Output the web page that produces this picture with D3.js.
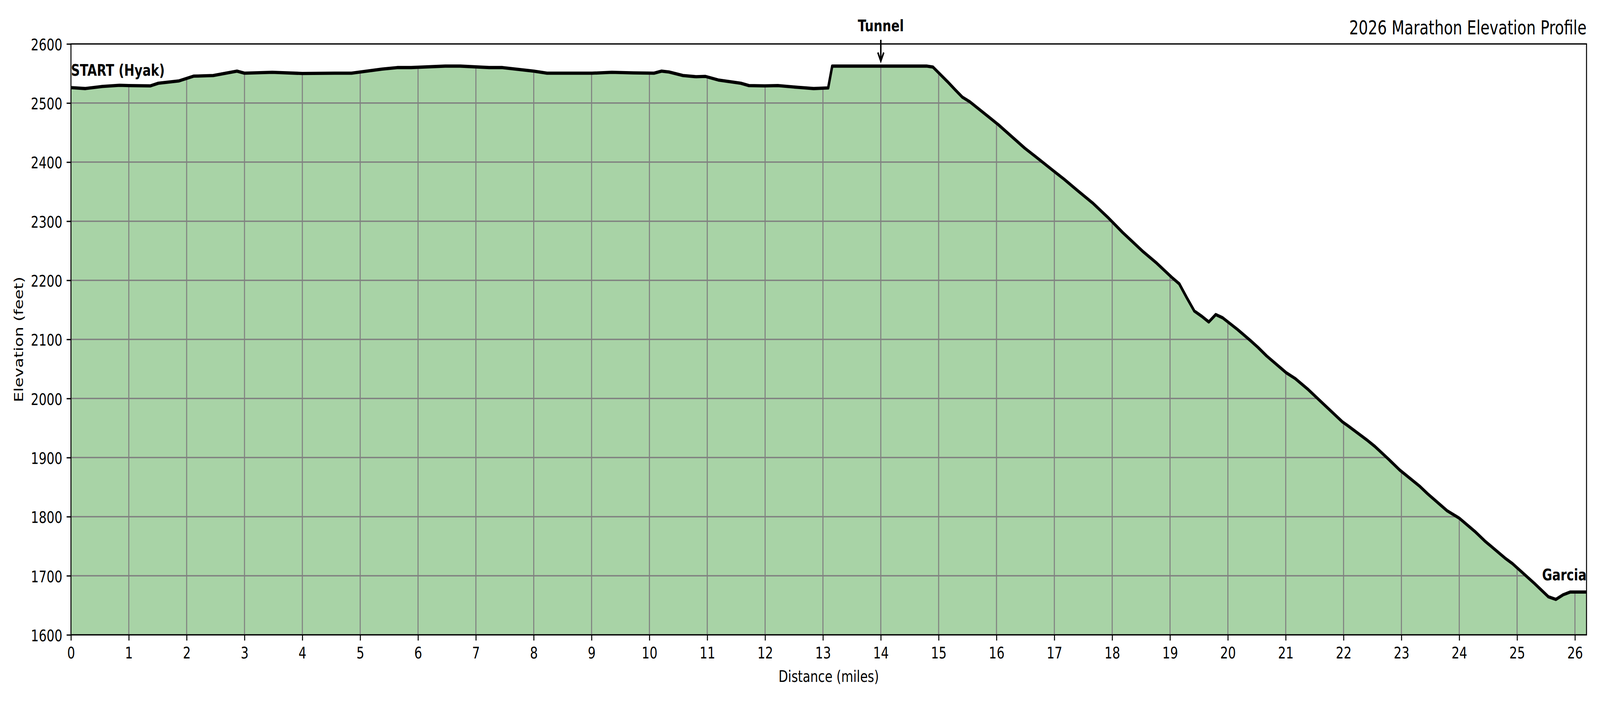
<!DOCTYPE html>
<html lang="en">

<head>
  <meta charset="UTF-8">
  <meta name="viewport" content="width=device-width, initial-scale=1.0">
  <title>2026 Marathon Elevation Profile</title>
  <style>
    html, body { margin: 0; padding: 0; width: 100%; height: 100%; overflow: hidden; background: #fff; }
    #d3 { width: 100%; height: 100%; }
    svg { display: block; }
    svg text { font-family: "DejaVu Sans", sans-serif; fill: #000; }
  </style>
</head>
<script src='https://d3js.org/d3.v7.min.js'></script>

<body>
  <div id="d3"></div>
</body>

<script>
  // distance along the course (miles) and elevation (feet)
  const miles = [
    0, 0.25, 0.54, 0.84, 1.0, 1.37, 1.51, 1.87, 2.12, 2.46, 2.87, 3.0, 3.48, 4.0, 4.56,
    4.85, 5.0, 5.38, 5.64, 5.88, 6.47, 6.73, 7.23, 7.46, 7.73, 8.0, 8.23, 8.67, 9.01,
    9.35, 9.72, 10.08, 10.21, 10.34, 10.58, 10.81, 10.97, 11.19, 11.58, 11.72, 11.99,
    12.22, 12.57, 12.84, 13.09, 13.16, 14.79, 14.9, 15.15, 15.29, 15.41, 15.54, 16.03,
    16.49, 16.68, 17.0, 17.17, 17.4, 17.66, 17.92, 18.18, 18.54, 18.77, 19.03, 19.16,
    19.29, 19.42, 19.55, 19.67, 19.79, 19.91, 20.17, 20.39, 20.52, 20.67, 21.01, 21.16,
    21.39, 21.67, 21.98, 22.08, 22.42, 22.54, 22.77, 22.97, 23.31, 23.45, 23.79, 24.0,
    24.27, 24.44, 24.79, 24.92, 25.3, 25.54, 25.67, 25.8, 25.92, 26.2
  ]
  const elevation = [
    2526, 2524.5, 2528, 2530, 2529.5, 2529, 2533.5, 2537.5, 2545.5, 2546.5, 2554, 2550.5, 2552, 2550, 2550.5,
    2550.5, 2552.5, 2557.5, 2560, 2560, 2562.5, 2562.5, 2560, 2560, 2557, 2554, 2550.5, 2550.5, 2550.5,
    2552, 2551, 2550.5, 2554, 2552.5, 2546.5, 2544.5, 2545, 2539, 2533.5, 2529.5, 2529,
    2529.5, 2526.5, 2524.5, 2525.5, 2562.5, 2562.5, 2561, 2536.5, 2522, 2510, 2502, 2463.5,
    2423.5, 2409, 2384, 2371, 2352, 2331, 2307, 2281, 2248, 2229, 2205, 2194,
    2170.5, 2148, 2139, 2129.5, 2142, 2136.5, 2116.5, 2098, 2086.5, 2072, 2043.5, 2034,
    2015, 1989, 1960.5, 1953.5, 1928.5, 1919, 1898, 1879, 1852, 1839, 1810, 1797.5,
    1775, 1759, 1730, 1720.5, 1687, 1664.5, 1660, 1668, 1672.5, 1672.5
  ]

  const xTicks = d3.range(0, 27)
  const yTicks = [1600, 1700, 1800, 1900, 2000, 2100, 2200, 2300, 2400, 2500, 2600]

  // course landmarks: [label, mile, elevation]
  const startLabel = ['START (Hyak)', 0, 2546]
  const tunnelLabel = ['Tunnel', 14, 2621.5, 2607, 2571]
  const finishLabel = ['Garcia', 26.2, 1692]

  const w = 5400,
    h = 1800
  const margin = { top: 112.5, right: 45.5, bottom: 174.5, left: 239.5 }
  const fs = 41.67 // 10pt @ 300dpi

  // drawn in a 5400x1800 user space and stretched over the whole window
  // (the window we get is not always 3:1)
  const svg = d3.select("#d3").append("svg")
    .attr("width", "100%")
    .attr("height", "100%")
    .attr("viewBox", `0 0 ${w} ${h}`)
    .attr("preserveAspectRatio", "none")

  const x = d3.scaleLinear()
    .domain([0, 26.2])
    .range([margin.left, w - margin.right])

  const y = d3.scaleLinear()
    .domain([1600, 2600])
    .range([h - margin.bottom, margin.top])

  const data = miles.map((m, i) => ({ m: m, e: elevation[i] }))

  const area = d3.area()
    .x((d) => x(d.m))
    .y0(y(1600))
    .y1((d) => y(d.e))

  const line = d3.line()
    .x((d) => x(d.m))
    .y((d) => y(d.e))

  // DRAWING FILL
  svg.append('path')
    .datum(data)
    .attr('d', area)
    .attr('fill', '#a8d3a6')

  // grid only shows inside the filled profile
  svg.append('clipPath')
    .attr('id', 'under')
    .append('path')
    .datum(data)
    .attr('d', area)

  const grid = svg.append('g')
    .attr('clip-path', 'url(#under)')
    .attr('stroke', '#808080')
    .attr('stroke-width', 3.5)

  grid.selectAll('.vgrid')
    .data(xTicks)
    .enter()
    .append('line')
    .attr('x1', (d) => x(d))
    .attr('x2', (d) => x(d))
    .attr('y1', y(1600))
    .attr('y2', y(2600))

  grid.selectAll('.hgrid')
    .data(yTicks)
    .enter()
    .append('line')
    .attr('x1', x(0))
    .attr('x2', x(26.2))
    .attr('y1', (d) => y(d))
    .attr('y2', (d) => y(d))

  // DRAWING PROFILE LINE
  svg.append('path')
    .datum(data)
    .attr('d', line)
    .attr('fill', 'none')
    .attr('stroke', '#000')
    .attr('stroke-width', 8.3)
    .attr('stroke-linejoin', 'round')

  // AXES
  const xAxis = svg.append('g')
    .attr('transform', `translate(0,${y(1600)})`)
    .call(d3.axisBottom(x).tickValues(xTicks).tickFormat(d3.format('d')).tickSize(14.6).tickPadding(16.6))

  const yAxis = svg.append('g')
    .attr('transform', `translate(${x(0)},0)`)
    .call(d3.axisLeft(y).tickValues(yTicks).tickFormat(d3.format('d')).tickSize(14.6).tickPadding(14.6))

  yAxis.selectAll('text').attr('dy', '0.38em')

  ;[xAxis, yAxis].forEach((a) => {
    a.select('.domain').remove()
    a.selectAll('line').attr('stroke', '#000').attr('stroke-width', 3.33)
    a.selectAll('text')
      .style('font-size', fs + 'px')
      .style('font-family', '"DejaVu Sans"')
      .attr('fill', '#000')
  })

  // spines
  svg.append('rect')
    .attr('x', x(0))
    .attr('y', y(2600))
    .attr('width', x(26.2) - x(0))
    .attr('height', y(1600) - y(2600))
    .attr('fill', 'none')
    .attr('stroke', '#000')
    .attr('stroke-width', 3.33)

  // LABELS
  svg.append('text')
    .attr('x', (x(0) + x(26.2)) / 2)
    .attr('y', 1745.7)
    .attr('text-anchor', 'middle')
    .style('font-size', fs + 'px')
    .text('Distance (miles)')

  svg.append('text')
    .attr('transform', `translate(77.3,${(y(1600) + y(2600)) / 2}) rotate(-90)`)
    .attr('text-anchor', 'middle')
    .style('font-size', fs + 'px')
    .text('Elevation (feet)')

  svg.append('text')
    .attr('x', x(26.2))
    .attr('y', 88)
    .attr('text-anchor', 'end')
    .style('font-size', '50px')
    .text('2026 Marathon Elevation Profile')

  // ANNOTATIONS
  svg.append('text')
    .attr('x', x(startLabel[1]))
    .attr('y', y(startLabel[2]))
    .style('font-size', fs + 'px')
    .style('font-weight', 'bold')
    .text(startLabel[0])

  svg.append('text')
    .attr('x', x(finishLabel[1]))
    .attr('y', y(finishLabel[2]))
    .attr('text-anchor', 'end')
    .style('font-size', fs + 'px')
    .style('font-weight', 'bold')
    .text(finishLabel[0])

  svg.append('text')
    .attr('x', x(tunnelLabel[1]))
    .attr('y', y(tunnelLabel[2]))
    .attr('text-anchor', 'middle')
    .style('font-size', fs + 'px')
    .style('font-weight', 'bold')
    .text(tunnelLabel[0])

  const ax = x(tunnelLabel[1]),
    ay0 = y(tunnelLabel[3]),
    ay1 = y(tunnelLabel[4])

  svg.append('path')
    .attr('d', `M${ax},${ay0}L${ax},${ay1}M${ax - 10},${ay1 - 22}L${ax},${ay1}L${ax + 10},${ay1 - 22}`)
    .attr('fill', 'none')
    .attr('stroke', '#000')
    .attr('stroke-width', 5)
</script>

</html>
